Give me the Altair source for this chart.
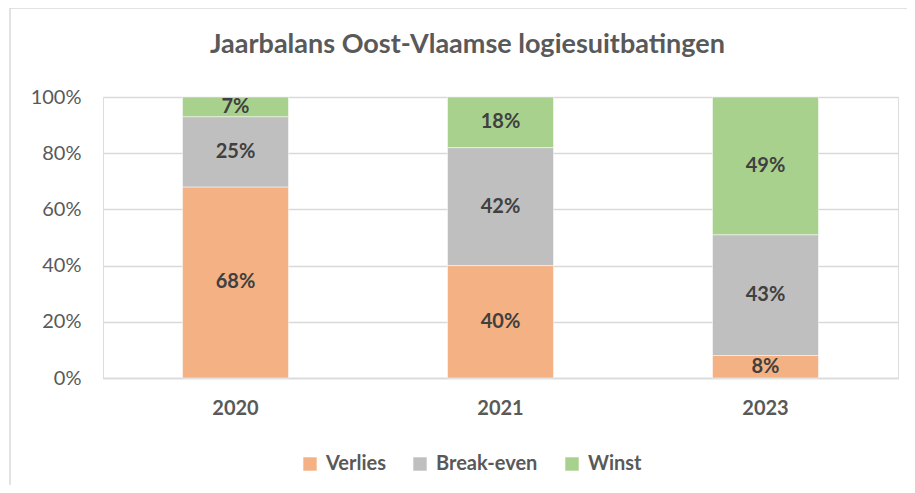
import altair as alt
import pandas as pd

years = ["2020", "2021", "2023"]
categories = ["Verlies", "Break-even", "Winst"]
verlies = [0.68, 0.40, 0.08]
break_even = [0.25, 0.42, 0.43]
winst = [0.07, 0.18, 0.49]
colors = ["#F4B183", "#BFBFBF", "#A9D18E"]

rows = []
for i, y in enumerate(years):
    for k, (cat, vals) in enumerate(zip(categories, [verlies, break_even, winst])):
        rows.append({"jaar": y, "cat": cat, "ord": k, "val": vals[i]})
df = pd.DataFrame(rows)

FONT = "Lato"
W, H = 795, 281

base = alt.Chart(df)

bars = base.mark_bar(stroke="white", strokeWidth=0.5).encode(
    x=alt.X("jaar:N", sort=years, title=None,
            scale=alt.Scale(paddingInner=0.6, paddingOuter=0.3),
            axis=alt.Axis(labelAngle=0, labelFont=FONT, labelFontSize=20, labelFontWeight="bold",
                          labelColor="#595959", ticks=False, domain=True, domainColor="#D9D9D9",
                          domainWidth=1.5, labelPadding=20)),
    y=alt.Y("val:Q", stack="zero", title=None,
            scale=alt.Scale(domain=[0, 1]),
            axis=alt.Axis(format=".0%", values=[0, 0.2, 0.4, 0.6, 0.8, 1.0], labelFont=FONT,
                          labelFontSize=20, labelColor="#595959", ticks=False, domain=False,
                          gridColor="#D9D9D9", gridWidth=1.5, labelPadding=22)),
    color=alt.Color("cat:N", sort=categories,
                    scale=alt.Scale(domain=categories, range=colors),
                    legend=alt.Legend(title=None, orient="none", direction="horizontal",
                                      legendX=197, legendY=357, symbolType="square",
                                      symbolSize=180, symbolStrokeWidth=0,
                                      labelFont=FONT, labelFontSize=20, labelFontWeight="bold",
                                      labelColor="#595959", columnPadding=24, labelOffset=6)),
    order=alt.Order("ord:Q"),
)

labels = base.transform_stack(
    stack="val", groupby=["jaar"], as_=["v0", "v1"], sort=[alt.SortField("ord")]
).transform_calculate(
    mid="(datum.v0 + datum.v1) / 2",
    lab="format(datum.val, '.0%')",
).mark_text(font=FONT, fontSize=20, fontWeight="bold", color="#404040", baseline="middle").encode(
    x=alt.X("jaar:N", sort=years),
    y=alt.Y("mid:Q"),
    text="lab:N",
)

frame = alt.Chart(alt.Data(values=[{"a": 1}])).mark_rect(
    fillOpacity=0, stroke="#D9D9D9", strokeWidth=1.5
).encode(
    x=alt.value(-93), x2=alt.value(830), y=alt.value(-89), y2=alt.value(420)
)

chart = alt.layer(frame, bars, labels).properties(
    width=W, height=H,
    title=alt.TitleParams("Jaarbalans Oost-Vlaamse logiesuitbatingen", font=FONT, fontSize=27,
                          fontWeight="bold", color="#595959", anchor="middle", dx=-33,
                          offset=0, baseline="alphabetic", dy=73),
    autosize=alt.AutoSizeParams(type="none"),
    padding={"left": 95, "top": 89, "right": 9, "bottom": 107},
).configure_view(stroke=None).configure(background="white")

chart.save("out.html", embed_options={"renderer": "svg", "actions": False})
